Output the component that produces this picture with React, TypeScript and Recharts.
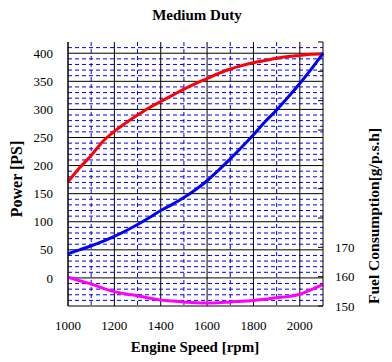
import { CartesianGrid, Line, LineChart, XAxis, YAxis } from "recharts";

// engine speed [rpm]
const rpm = [
  1000, 1050, 1100, 1150, 1200, 1250, 1300, 1350, 1400, 1450, 1500, 1550,
  1600, 1650, 1700, 1750, 1800, 1850, 1900, 1950, 2000, 2050, 2100,
];
// red curve, power [PS]
const power = [
  171, 196, 218, 243, 261, 276, 290, 303, 314, 325, 336, 346,
  355, 364, 372, 378, 383, 387, 391, 394, 396, 398, 399,
];
// blue curve, left axis
const torque = [
  43, 50, 57, 65, 74, 84, 95, 107, 120, 131, 143, 157,
  173, 192, 212, 233, 255, 278, 299, 322, 346, 372, 400,
];
// magenta curve, fuel consumption [g/ps.h]
const fuel = [
  159.8, 158.6, 157.5, 156.1, 154.9, 154.1, 153.5, 152.7, 152.0, 151.7, 151.4, 151.1,
  151.0, 151.1, 151.4, 151.6, 151.9, 152.3, 152.8, 153.2, 154.0, 155.6, 157.4,
];

const rpmTicks = [1000, 1200, 1400, 1600, 1800, 2000];
const rpmMinor = [1100, 1300, 1500, 1700, 1900];
const powerTicks = [0, 50, 100, 150, 200, 250, 300, 350, 400];
const powerMinor = [
  -40, -30, -20, -10, 10, 20, 30, 40, 60, 70, 80, 90, 110, 120, 130, 140,
  160, 170, 180, 190, 210, 220, 230, 240, 260, 270, 280, 290, 310, 320, 330, 340,
  360, 370, 380, 390, 410,
];
const fuelTicks = [150, 160, 170, 180, 190, 200, 210, 220, 230, 240];
const fuelLabelled = [150, 160, 170];

const data = rpm.map((r, i) => ({ rpm: r, power: power[i], torque: torque[i], fuel: fuel[i] }));

const serif = "'Liberation Serif', 'Times New Roman', serif";
const tickStyle = { fill: "#000", fontSize: 13, fontFamily: serif };

export default function App() {
  return (
    <div style={{ position: "absolute", left: 0, top: 0, width: 392, height: 362, background: "#fff" }}>
      <LineChart
        width={392}
        height={362}
        data={data}
        margin={{ top: 42, right: 0, bottom: 0, left: 0 }}
      >
        <CartesianGrid
          yAxisId="left"
          horizontalValues={powerMinor}
          verticalValues={rpmMinor}
          stroke="#0000ff"
          strokeDasharray="4 3"
        />
        <CartesianGrid
          yAxisId="left"
          horizontalValues={powerTicks}
          verticalValues={rpmTicks}
          stroke="#000"
        />
        <XAxis
          dataKey="rpm"
          type="number"
          domain={[1000, 2100]}
          ticks={rpmTicks}
          interval={0}
          height={56}
          tickSize={0}
          tickMargin={15}
          tick={tickStyle}
          axisLine={{ stroke: "#000" }}
        />
        <XAxis
          xAxisId="top"
          dataKey="rpm"
          type="number"
          orientation="top"
          domain={[1000, 2100]}
          height={0}
          tick={false}
          tickLine={false}
          axisLine={{ stroke: "#000" }}
        />
        <YAxis
          yAxisId="left"
          type="number"
          domain={[-50, 420]}
          ticks={powerTicks}
          interval={0}
          width={68}
          tickSize={0}
          tickMargin={15}
          tick={tickStyle}
          axisLine={{ stroke: "#000" }}
        />
        <YAxis
          yAxisId="right"
          orientation="right"
          type="number"
          domain={[150, 240]}
          ticks={fuelTicks}
          interval={0}
          width={69}
          tickSize={-5}
          tickMargin={17}
          tick={tickStyle}
          tickFormatter={(v: number) => (fuelLabelled.includes(v) ? String(v) : "")}
          tickLine={{ stroke: "#000" }}
          axisLine={{ stroke: "#000" }}
        />
        <Line yAxisId="left" type="monotone" dataKey="power" stroke="#ff0000" strokeWidth={3} dot={false} isAnimationActive={false} />
        <Line yAxisId="left" type="monotone" dataKey="torque" stroke="#0000ff" strokeWidth={3} dot={false} isAnimationActive={false} />
        <Line yAxisId="right" type="monotone" dataKey="fuel" stroke="#ff00ff" strokeWidth={3} dot={false} isAnimationActive={false} />
      </LineChart>
      <svg
        width={392}
        height={362}
        style={{ position: "absolute", left: 0, top: 0, pointerEvents: "none" }}
        fontFamily={serif}
        fontWeight="bold"
      >
        <text x={197} y={19.5} fontSize={15} textAnchor="middle">Medium Duty</text>
        <text x={195} y={351.5} fontSize={15} textAnchor="middle">Engine Speed [rpm]</text>
        <text transform="translate(21.5,179) rotate(-90)" fontSize={16} textAnchor="middle">Power [PS]</text>
        <text transform="translate(378.5,216) rotate(-90)" fontSize={15.5} textAnchor="middle">Fuel Consumption[g/p.s.h]</text>
      </svg>
    </div>
  );
}
